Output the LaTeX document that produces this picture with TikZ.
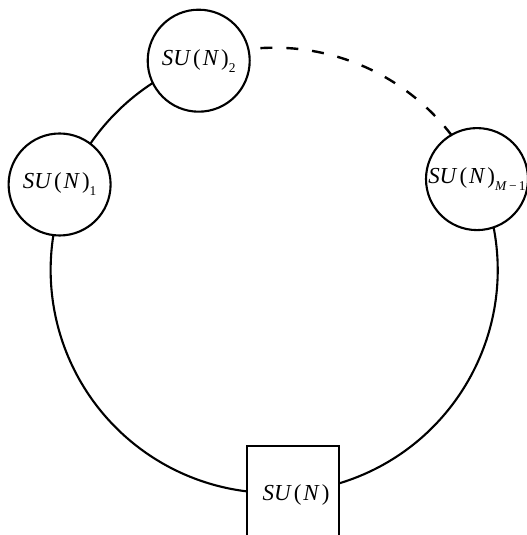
\documentclass[tikz,border=0pt]{standalone}
\usepackage{fontspec}
\setmainfont{Liberation Serif}
\newcommand{\grpname}{\textit{SU}\kern2pt(\kern2pt\textit{N}\kern2pt)}
\newcommand{\grpsub}[1]{\raisebox{-7bp}{\fontsize{13.5}{14}\selectfont #1}}
\begin{document}
\begin{tikzpicture}[x=1bp,y=1bp,
  gauge/.style={circle,draw,line width=2.1bp,minimum size=102bp,inner sep=0pt,outer sep=0pt,
                font=\fontsize{23}{27}\selectfont},
  flavour/.style={rectangle,draw,line width=2.4bp,minimum width=92bp,minimum height=98bp,
                inner sep=0pt,outer sep=0pt,font=\fontsize{23}{27}\selectfont},
  wire/.style={line width=2.1bp},
  dashwire/.style={line width=2.4bp,dash pattern=on 12bp off 13.9bp,dash phase=13.8bp}]
\useasboundingbox (0,0) rectangle (527,535);
\clip (0,0) rectangle (527,535);
\coordinate (c) at (274,265);
\node[gauge] (su1) at (59.6,350.5) {\grpname\grpsub{1}};
\node[gauge] (su2) at (198.7,474.3) {\grpname\grpsub{2}};
\node[gauge] (sum) at (477,355.9) {\grpname\grpsub{\textit{M}\,−\,1}};
\node[flavour] (box) at (293,40) {\kern6pt\grpname};
% connectors along the big circle centred at (c), radius 223bp
\draw[wire] (su1.53.1) arc[start angle=145.5, end angle=122.9, radius=223bp];
\draw[dashwire] (su2.13.9) arc[start angle=96.7, end angle=37.2, radius=223bp];
\draw[wire] (su1.263.4) arc[start angle=171.0, end angle=263.05, radius=223bp];
\draw[wire] (sum.-71.8) arc[start angle=11.0, end angle=-73.05, radius=223bp];
\end{tikzpicture}
\end{document}
